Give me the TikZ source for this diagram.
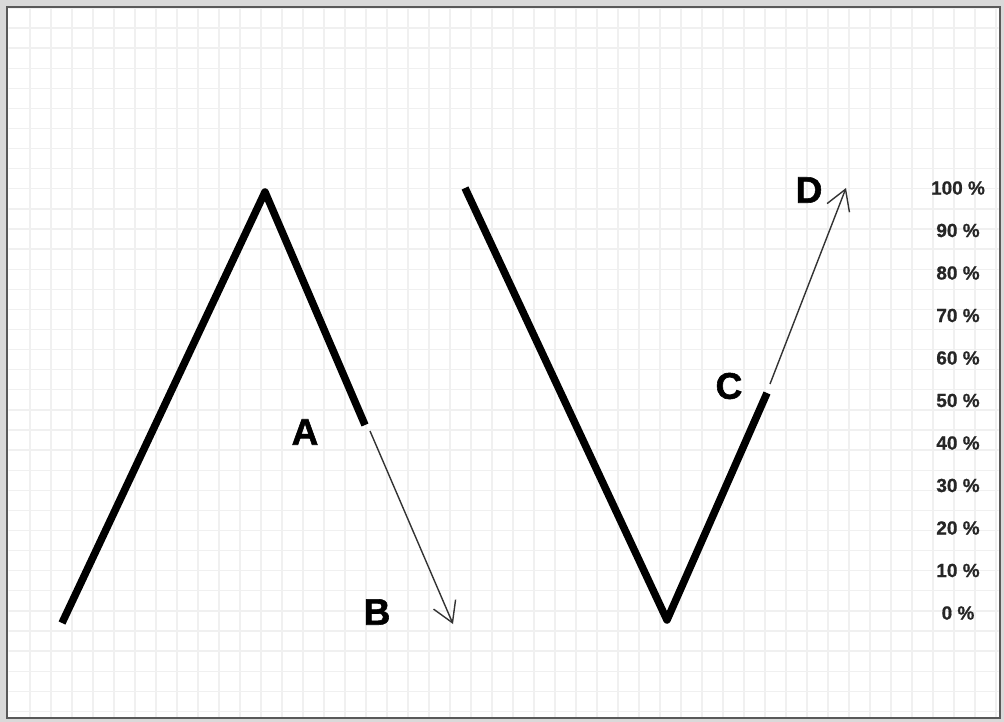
\documentclass[tikz,border=0pt]{standalone}
\usepackage{fontspec}
\setmainfont{Liberation Sans}
\newfontfamily\heavyfont{Liberation Sans Bold}[FakeBold=1.5]
\newfontfamily\scalefont{Liberation Sans Bold}[FakeBold=0.8]
\usetikzlibrary{arrows.meta}

\begin{document}
\begin{tikzpicture}[
    x=1pt, y=-1pt,
    % Styles
    frame/.style={draw=black!65, line width=2.5pt},
    gridline/.style={draw=black!6, line width=1.3pt},
    wave/.style={draw=black, line width=7.5pt, line cap=butt, line join=round},
    move/.style={-{Straight Barb[length=20pt, width=24pt, line width=1.4pt]}, draw=black!80, line width=1.4pt},
    letter/.style={font=\fontsize{37}{40}\selectfont\heavyfont, inner sep=0pt},
    pct/.style={font=\fontsize{19}{20}\selectfont\scalefont, text=black!85, inner sep=0pt}
]

% ========================================================
% BACKGROUND: frame and grid
% ========================================================
\fill[black!15] (0,0) rectangle (1004,722);
\useasboundingbox (0,0) rectangle (1004,722);
\fill[white] (7,7) rectangle (1000,718);
\begin{scope}
  \clip (8.5,8.5) rectangle (998.5,716.5);
  \foreach \gx in {0,...,46} {
    \draw[gridline] (30+21*\gx,8) -- (30+21*\gx,717);
  }
  \foreach \gy in {-1,...,34} {
    \draw[gridline] (8,28+20.1*\gy) -- (999,28+20.1*\gy);
  }
\end{scope}
\draw[frame] (7,7) rectangle (1000,718);

% ========================================================
% KEY POINTS
% ========================================================
\coordinate (lstart) at (62,623);
\coordinate (ltop) at (265,192);
\coordinate (pa) at (365,425);
\coordinate (pa2) at (370,431);
\coordinate (pb) at (453,624);
\coordinate (rstart) at (465,188);
\coordinate (rbottom) at (667,620);
\coordinate (pc) at (767,393);
\coordinate (pc2) at (770,384);
\coordinate (pd) at (846,188);

% ========================================================
% PART 1: PEAK (left)
% ========================================================
\draw[wave] (lstart) -- (ltop) -- (pa);
\draw[move] (pa2) -- (pb);
\node[letter] (la) at (305,432) {A};
\node[letter] (lb) at (377,612) {B};

% ========================================================
% PART 2: TROUGH (right)
% ========================================================
\draw[wave] (rstart) -- (rbottom) -- (pc);
\draw[move] (pc2) -- (pd);
\node[letter] (lc) at (729,386) {C};
\node[letter] (ld) at (809,190) {D};

% Percentage scale
\foreach \p [count=\i from 0] in {100,90,80,70,60,50,40,30,20,10,0} {
  \node[pct] (p\p) at (958,188+42.5*\i) {\p\ \%};
}

\end{tikzpicture}
\end{document}
